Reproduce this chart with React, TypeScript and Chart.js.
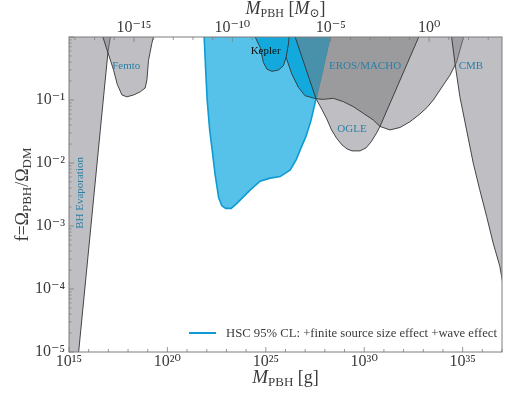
import React, { useEffect, useRef } from "react";
import { Chart, registerables } from "chart.js";

Chart.register(...registerables);

// ---------- style ----------
const SERIF = "'Liberation Serif', 'DejaVu Serif', serif";
const AXIS_COLOR = "#7d7d7d";
const TEXT_COLOR = "#3a3a3a";
const LABEL_COLOR = "#2a7fa6";
const EDGE_COLOR = "#333333";
const HSC_LINE = "#0e9bd2";
const HSC_FILL = "#56c2ea";
const KEPLER_FILL = "#14a9dc";
const GRAY_FILL = "rgba(128,128,136,0.5)";
const EROS_FILL = "rgba(122,122,124,0.52)";

// ---------- data (log10 of M_PBH in g, log10 of f) ----------
const M_SUN_G = 1.989e33;
const xRangeLog = [15, 37];
const yRangeLog = [-5, 0];
const xLabelledLog = [15, 20, 25, 30, 35];
const topLabelledLog = [-15, -10, -5, 0];
const yLabelledLog = [-5, -4, -3, -2, -1];

const evaporationEdge = [[15.18, -6], [15.49, -5], [16.59, -1.48], [16.98, -0.24], [17.1, 0], [17.15, 0.1]];
const femtoEdge = [[16.69, 0.1], [16.72, 0], [16.97, -0.24], [17.26, -0.52], [17.45, -0.75], [17.69, -0.92], [17.94, -0.95], [18.28, -0.92], [18.62, -0.87], [18.87, -0.81], [18.96, -0.68], [19.04, -0.37], [19.21, -0.1], [19.29, 0], [19.31, 0.1]];
const hscEdge = [[21.86, 0.1], [21.868, 0], [21.944, -0.525], [22.02, -1.0], [22.147, -1.475], [22.274, -1.792], [22.426, -2.19], [22.604, -2.553], [22.766, -2.68], [22.96, -2.72], [23.24, -2.72], [23.53, -2.64], [24.2, -2.43], [24.71, -2.29], [25.22, -2.24], [25.73, -2.215], [26.24, -2.11], [26.54, -1.95], [26.79, -1.76], [27.05, -1.57], [27.3, -1.32], [27.55, -0.98], [27.91, -0.49], [28.26, 0], [28.33, 0.1]];
const keplerEdge = [[24.44, 0.1], [24.457, 0], [24.711, -0.165], [24.878, -0.403], [25.051, -0.509], [25.305, -0.545], [25.64, -0.525], [25.893, -0.456], [26.03, -0.323], [26.15, -0.11], [26.18, 0], [26.19, 0.1]];
const keplerTail = [[26.03, -0.323], [26.32, -0.588], [26.655, -0.799], [26.995, -0.932], [27.55, -0.98]];
const erosEdge = [[26.45, 0.1], [26.49, 0], [27.55, -0.98], [27.92, -0.99], [28.43, -0.973], [28.94, -1.027], [29.45, -1.106], [29.95, -1.211], [30.46, -1.317], [30.8, -1.42], [32.77, 0], [32.81, 0.1]];
const ogleEdge = [[27.55, -0.98], [27.81, -1.127], [28.096, -1.301], [28.34, -1.475], [28.604, -1.61], [28.873, -1.713], [29.127, -1.777], [29.381, -1.808], [29.787, -1.808], [30.091, -1.76], [30.345, -1.666], [30.599, -1.539], [30.8, -1.42], [31.31, -1.475], [31.82, -1.436], [32.33, -1.344], [32.83, -1.222], [33.19, -1.119], [33.51, -1.0], [34.02, -0.762], [34.36, -0.604], [34.7, -0.393], [34.86, -0.208], [35.03, -0.022], [35.07, 0.1]];
const cmbEdge = [[34.42, 0.1], [34.44, 0], [34.61, -0.418], [34.86, -0.948], [35.2, -1.475], [35.54, -2.003], [35.87, -2.426], [36.22, -2.85], [36.55, -3.27], [36.89, -3.64], [36.98, -3.8], [37.2, -4.2]];

const regionNames = ["Femto", "Kepler", "EROS/MACHO", "CMB", "OGLE", "BH Evaporation"];
const regionLabelAt = [[17.91, -0.46], [24.99, -0.223], [30.04, -0.461], [35.42, -0.461], [29.38, -1.46], [15.55, -2.475]];
const legendLabel = "HSC 95% CL: +finite source size effect +wave effect";

// ---------- helpers ----------
const toPoints = (arr: number[][]) => arr.map(([lm, lf]) => ({ x: Math.pow(10, lm), y: Math.pow(10, lf) }));
const SUP: Record<string, string> = { "-": "\u207B", "0": "\u2070", "1": "\u00B9", "2": "\u00B2", "3": "\u00B3", "4": "\u2074", "5": "\u2075", "6": "\u2076", "7": "\u2077", "8": "\u2078", "9": "\u2079" };
const pow10Label = (n: number) => "10" + String(n).split("").map((c) => SUP[c]).join("");
const range = (a: number, b: number) => { const r: number[] = []; for (let i = a; i <= b; i++) r.push(i); return r; };

type Part = { t: string; size: number; italic?: boolean; dy?: number };
function drawRich(ctx: CanvasRenderingContext2D, parts: Part[], cx: number, baseline: number) {
  let total = 0;
  const widths = parts.map((p) => {
    ctx.font = `${p.italic ? "italic " : ""}${p.size}px ${SERIF}`;
    const w = ctx.measureText(p.t).width;
    total += w;
    return w;
  });
  let x = cx - total / 2;
  ctx.textAlign = "left";
  ctx.textBaseline = "alphabetic";
  parts.forEach((p, i) => {
    ctx.font = `${p.italic ? "italic " : ""}${p.size}px ${SERIF}`;
    ctx.fillText(p.t, x, baseline + (p.dy || 0));
    x += widths[i];
  });
}

const bottomTitle: Part[] = [{ t: "M", size: 19, italic: true }, { t: "PBH", size: 13, dy: 3 }, { t: " [g]", size: 18 }];
const topTitle: Part[] = [{ t: "M", size: 18, italic: true }, { t: "PBH", size: 12, dy: 3 }, { t: " [", size: 18 }, { t: "M", size: 18, italic: true }, { t: "\u2299", size: 12, dy: 3 }, { t: "]", size: 18 }];
const yTitle: Part[] = [{ t: "f=\u03A9", size: 18 }, { t: "PBH", size: 13, dy: 3 }, { t: "/\u03A9", size: 18 }, { t: "DM", size: 13, dy: 3 }];

const decorPlugin = {
  id: "decor",
  afterDraw(chart: any) {
    const ctx: CanvasRenderingContext2D = chart.ctx;
    const { left, right, top, bottom } = chart.chartArea;
    const sx = chart.scales.x, sy = chart.scales.y, st = chart.scales.xTop;
    ctx.save();
    // inward tick marks
    ctx.strokeStyle = AXIS_COLOR;
    ctx.lineWidth = 0.8;
    const seg = (x1: number, y1: number, x2: number, y2: number) => { ctx.beginPath(); ctx.moveTo(x1, y1); ctx.lineTo(x2, y2); ctx.stroke(); };
    for (const n of range(xRangeLog[0], xRangeLog[1])) {
      const px = sx.getPixelForValue(Math.pow(10, n));
      seg(px, bottom, px, bottom - (xLabelledLog.includes(n) ? 5 : 3));
    }
    for (const n of range(-18, 3)) {
      const px = st.getPixelForValue(Math.pow(10, n));
      if (px < left - 0.5 || px > right + 0.5) continue;
      seg(px, top, px, top + (topLabelledLog.includes(n) ? 5 : 3));
    }
    for (const n of range(yRangeLog[0], yRangeLog[1])) {
      const py = sy.getPixelForValue(Math.pow(10, n));
      seg(left, py, left + 5, py);
      if (n < yRangeLog[1]) {
        for (let k = 2; k <= 9; k++) {
          const py2 = sy.getPixelForValue(k * Math.pow(10, n));
          seg(left, py2, left + 2.5, py2);
        }
      }
    }
    // frame
    ctx.lineWidth = 1;
    ctx.strokeRect(left, top, right - left, bottom - top);

    // region labels
    regionNames.forEach((name, i) => {
      const [lm, lf] = regionLabelAt[i];
      const px = sx.getPixelForValue(Math.pow(10, lm));
      const py = sy.getPixelForValue(Math.pow(10, lf));
      ctx.font = `11px ${SERIF}`;
      ctx.fillStyle = name === "Kepler" ? "#111111" : LABEL_COLOR;
      ctx.textAlign = "center";
      ctx.textBaseline = "middle";
      ctx.save();
      ctx.translate(px, py);
      if (name === "BH Evaporation") ctx.rotate(-Math.PI / 2);
      ctx.fillText(name, 0, 0);
      ctx.restore();
    });

    // legend (inside, lower right)
    ctx.font = `12.7px ${SERIF}`;
    const tw = ctx.measureText(legendLabel).width;
    const tx = right - 5 - tw;
    const ly = bottom - 19;
    ctx.fillStyle = TEXT_COLOR;
    ctx.textAlign = "left";
    ctx.textBaseline = "middle";
    ctx.fillText(legendLabel, tx, ly + 1);
    ctx.strokeStyle = HSC_LINE;
    ctx.lineWidth = 2;
    seg(tx - 37, ly, tx - 10, ly);

    // axis titles
    ctx.fillStyle = TEXT_COLOR;
    const cx = (left + right) / 2;
    drawRich(ctx, bottomTitle, cx, 383);
    drawRich(ctx, topTitle, cx, 14);
    ctx.save();
    ctx.translate(28, (top + bottom) / 2);
    ctx.rotate(-Math.PI / 2);
    drawRich(ctx, yTitle, 0, 0);
    ctx.restore();

    ctx.restore();
  },
};

function buildConfig(): any {
  const satBlueFill = [
    ...keplerEdge.slice(0, 9),
    ...keplerTail.slice(1),
    ...hscEdge.filter((p) => p[0] > 27.55),
  ];
  const evaporationPolygon = [[14.5, -6], ...evaporationEdge, [14.5, 0.1]];
  const oglePolygon = [erosEdge[0], erosEdge[1], ...ogleEdge];
  const cmbPolygon = [...cmbEdge, [37.6, -4.2], [37.6, 0.1]];

  const base = { showLine: true, pointRadius: 0, pointHoverRadius: 0, tension: 0, clip: 0, xAxisID: "x", yAxisID: "y" };
  // index 0 is drawn last (on top)
  const datasets = [
    { ...base, label: "Kepler", data: toPoints(keplerEdge), fill: false, borderColor: EDGE_COLOR, borderWidth: 0.9 },
    { ...base, label: "Kepler tail", data: toPoints(keplerTail), fill: false, borderColor: EDGE_COLOR, borderWidth: 0.9 },
    { ...base, label: "EROS/MACHO", data: toPoints(erosEdge), fill: "shape", backgroundColor: EROS_FILL, borderColor: EDGE_COLOR, borderWidth: 0.9 },
    { ...base, label: "Kepler fill", data: toPoints(satBlueFill), fill: "shape", backgroundColor: KEPLER_FILL, borderColor: "rgba(0,0,0,0)", borderWidth: 0 },
    { ...base, label: "HSC", data: toPoints(hscEdge), fill: "shape", backgroundColor: HSC_FILL, borderColor: HSC_LINE, borderWidth: 1.6 },
    { ...base, label: "CMB", data: toPoints(cmbPolygon), fill: "shape", backgroundColor: GRAY_FILL, borderColor: EDGE_COLOR, borderWidth: 0.9 },
    { ...base, label: "OGLE", data: toPoints(oglePolygon), fill: "shape", backgroundColor: GRAY_FILL, borderColor: EDGE_COLOR, borderWidth: 0.9 },
    { ...base, label: "Femto", data: toPoints(femtoEdge), fill: "shape", backgroundColor: GRAY_FILL, borderColor: EDGE_COLOR, borderWidth: 0.9 },
    { ...base, label: "BH Evaporation", data: toPoints(evaporationPolygon), fill: "shape", backgroundColor: GRAY_FILL, borderColor: EDGE_COLOR, borderWidth: 0.9 },
  ];

  const tickFont = { family: SERIF, size: 16 };
  return {
    type: "scatter",
    data: { datasets },
    options: {
      animation: false,
      responsive: false,
      devicePixelRatio: 1,
      layout: { padding: { left: 0, right: 5, top: 0, bottom: 0 } },
      plugins: { legend: { display: false }, tooltip: { enabled: false } },
      events: [],
      scales: {
        x: {
          type: "logarithmic",
          position: "bottom",
          min: Math.pow(10, xRangeLog[0]),
          max: Math.pow(10, xRangeLog[1]),
          afterBuildTicks: (s: any) => { s.ticks = range(xRangeLog[0], xRangeLog[1]).map((n) => ({ value: Math.pow(10, n) })); },
          afterFit: (s: any) => { s.height = 41; },
          grid: { display: false, drawTicks: false },
          border: { display: false },
          ticks: {
            autoSkip: false, maxRotation: 0, minRotation: 0, padding: 0, color: TEXT_COLOR, font: tickFont,
            callback: (v: number) => { const n = Math.round(Math.log10(v)); return xLabelledLog.includes(n) ? pow10Label(n) : ""; },
          },
        },
        xTop: {
          type: "logarithmic",
          position: "top",
          min: Math.pow(10, xRangeLog[0]) / M_SUN_G,
          max: Math.pow(10, xRangeLog[1]) / M_SUN_G,
          afterBuildTicks: (s: any) => { s.ticks = range(-18, 3).map((n) => ({ value: Math.pow(10, n) })).filter((t) => t.value >= s.min && t.value <= s.max); },
          afterFit: (s: any) => { s.height = 37; },
          grid: { display: false, drawTicks: false },
          border: { display: false },
          ticks: {
            autoSkip: false, maxRotation: 0, minRotation: 0, padding: 0, color: TEXT_COLOR, font: tickFont,
            callback: (v: number) => { const n = Math.round(Math.log10(v)); return topLabelledLog.includes(n) ? pow10Label(n) : ""; },
          },
        },
        y: {
          type: "logarithmic",
          position: "left",
          min: Math.pow(10, yRangeLog[0]),
          max: Math.pow(10, yRangeLog[1]),
          afterBuildTicks: (s: any) => { s.ticks = range(yRangeLog[0], yRangeLog[1]).map((n) => ({ value: Math.pow(10, n) })); },
          afterFit: (s: any) => { s.width = 69; },
          grid: { display: false, drawTicks: false },
          border: { display: false },
          ticks: {
            autoSkip: false, padding: 4, color: TEXT_COLOR, font: tickFont,
            callback: (v: number) => { const n = Math.round(Math.log10(v)); return yLabelledLog.includes(n) ? pow10Label(n) : ""; },
          },
        },
      },
    },
    plugins: [decorPlugin],
  };
}

export default function App() {
  const ref = useRef<HTMLCanvasElement | null>(null);
  useEffect(() => {
    document.body.style.margin = "0";
    const chart = new Chart(ref.current as HTMLCanvasElement, buildConfig());
    return () => chart.destroy();
  }, []);
  return (
    <div style={{ width: 507, height: 393, background: "#ffffff" }}>
      <canvas ref={ref} width={507} height={393} style={{ display: "block", width: 507, height: 393 }} />
    </div>
  );
}
